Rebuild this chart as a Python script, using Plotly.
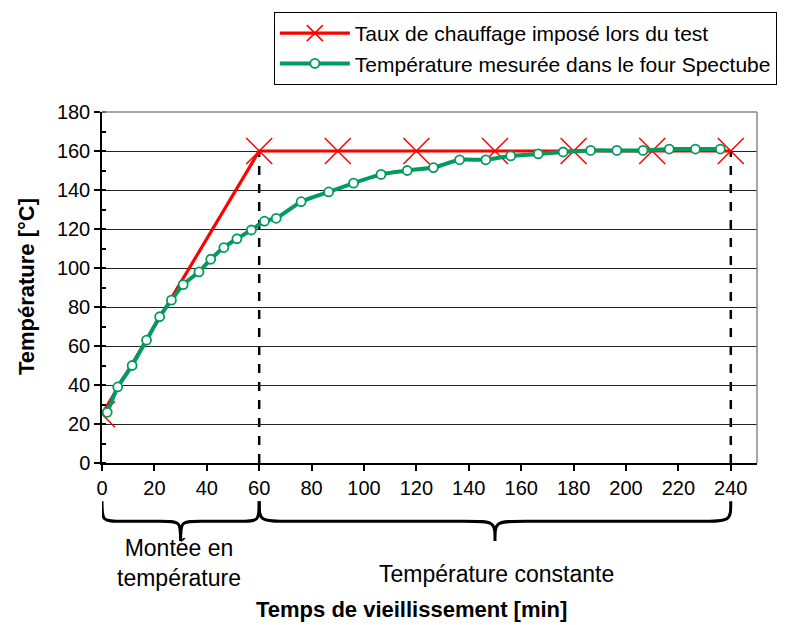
import plotly.graph_objects as go

# Data
red_x = [0, 60, 90, 120, 150, 180, 210, 240]
red_y = [25, 160, 160, 160, 160, 160, 160, 160]

green_x = [2, 6, 11.5, 17, 22, 26.5, 31, 37, 41.5, 46.5, 51.5, 57, 62, 66.5, 76, 86.5, 96,
           106.5, 116.5, 126.5, 136.5, 146.5, 156, 166.5, 176, 186.5, 196.5, 206.5, 216.5, 226.5, 236]
green_y = [26, 39, 50, 63, 75, 83.5, 91.5, 98, 104.5, 110.5, 115, 119.5, 124, 125.5, 134, 139, 143.5,
           148, 150, 151.5, 155.5, 155.5, 157.5, 158.5, 159.5, 160.3, 160.3, 160.3, 161, 161, 161]

x_ticks = list(range(0, 241, 20))
y_ticks = list(range(0, 181, 20))

FONT = "Arial, Liberation Sans, sans-serif"
RED = "#FF0000"
GREEN = "#009B5E"

fig = go.Figure()
fig.add_trace(go.Scatter(
    x=red_x, y=red_y, mode="lines+markers",
    name="Taux de chauffage imposé lors du test",
    line=dict(color=RED, width=3.2),
    marker=dict(symbol="x-thin", size=26, line=dict(color=RED, width=1.5), color=RED),
))
fig.add_trace(go.Scatter(
    x=green_x, y=green_y, mode="lines+markers",
    name="Température mesurée dans le four Spectube",
    line=dict(color=GREEN, width=4, shape="spline", smoothing=0.5),
    marker=dict(symbol="circle", size=9, color="white", line=dict(color=GREEN, width=1.8)),
))

shapes = []
# dashed verticals
for xv in (60, 240):
    shapes.append(dict(type="line", xref="x", yref="y", x0=xv, x1=xv, y0=0, y1=160,
                       line=dict(color="black", width=2.5, dash="dash"), layer="below"))
# top/right gray frame
shapes.append(dict(type="line", xref="paper", yref="paper", x0=0, x1=1, y0=1, y1=1,
                   line=dict(color="#888888", width=1.5)))
shapes.append(dict(type="line", xref="paper", yref="paper", x0=1, x1=1, y0=0, y1=1,
                   line=dict(color="#888888", width=1.5)))


def brace(x0, x1, d, yt=-0.109, yl=-0.166, yp=-0.222):
    xm = (x0 + x1) / 2
    p = (f"M{x0},{yt} C{x0},{yl} {x0},{yl} {x0 + d},{yl} "
         f"L{xm - d},{yl} C{xm},{yl} {xm},{yl} {xm},{yp} "
         f"C{xm},{yl} {xm},{yl} {xm + d},{yl} "
         f"L{x1 - d},{yl} C{x1},{yl} {x1},{yl} {x1},{yt}")
    return dict(type="path", xref="x", yref="paper", path=p,
                line=dict(color="black", width=3))


shapes.append(brace(0, 60, 8))
shapes.append(brace(60, 240, 12))

annotations = [
    dict(text="Montée en<br>température", xref="x", yref="paper", x=29.5, y=-0.284,
         xanchor="center", yanchor="middle",
         showarrow=False, font=dict(family=FONT, size=23, color="black")),
    dict(text="Température constante", xref="x", yref="paper", x=150.5, y=-0.315,
         xanchor="center", yanchor="middle",
         showarrow=False, font=dict(family=FONT, size=23, color="black")),
    dict(text="<b>Temps de vieillissement [min]</b>", xref="paper", yref="paper", x=0.473, y=-0.416,
         xanchor="center", yanchor="middle",
         showarrow=False, font=dict(family=FONT, size=22, color="black")),
    dict(text="<b>Température [°C]</b>", xref="paper", yref="paper", x=-0.115, y=0.503,
         xanchor="center", yanchor="middle",
         textangle=-90, showarrow=False, font=dict(family=FONT, size=22, color="black")),
]

fig.update_layout(
    width=789, height=625,
    margin=dict(l=102, r=27, t=107, b=162),
    paper_bgcolor="white", plot_bgcolor="white",
    font=dict(family=FONT, size=20, color="black"),
    showlegend=True,
    legend=dict(x=1.0303, xanchor="right", y=1.285, yanchor="top",
                bordercolor="black", borderwidth=1, bgcolor="white",
                font=dict(family=FONT, size=21, color="black"),
                tracegroupgap=0, itemwidth=70),
    shapes=shapes,
    annotations=annotations,
)
fig.update_xaxes(range=[0, 250], tickvals=x_ticks, ticktext=[str(v) for v in x_ticks],
                 showgrid=False, zeroline=False, showline=True, linecolor="black", linewidth=1.5,
                 ticks="outside", ticklen=6, tickwidth=1.5, tickcolor="black",
                 tickfont=dict(family=FONT, size=20))
fig.update_yaxes(range=[0, 180], tickvals=y_ticks, ticktext=[str(v) for v in y_ticks],
                 showgrid=True, gridcolor="#222222", gridwidth=1, zeroline=False,
                 showline=True, linecolor="black", linewidth=1.5,
                 ticks="outside", ticklen=6, tickwidth=1.5, tickcolor="black",
                 minor=dict(dtick=10, ticks="inside", ticklen=4, tickcolor="black", showgrid=False),
                 tickfont=dict(family=FONT, size=20))

fig.write_html("out.html")
